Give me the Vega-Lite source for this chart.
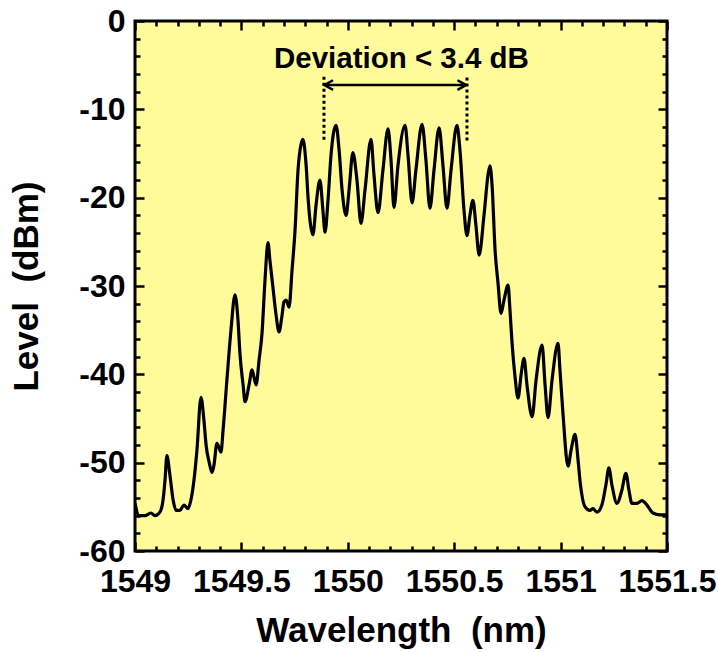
{
  "$schema": "https://vega.github.io/schema/vega-lite/v6.json",
  "width": 532,
  "height": 530,
  "autosize": "none",
  "padding": {"left": 135, "top": 21, "right": 51, "bottom": 101},
  "background": "white",
  "config": {
    "font": "Liberation Sans",
    "view": {"fill": "#FFFB9A", "stroke": "black", "strokeWidth": 3}
  },
  "datasets": {
    "spectrum": [
      {"w": 1549.000, "lvl": -54.6}, {"w": 1549.019, "lvl": -56.0}, {"w": 1549.047, "lvl": -56.0},
      {"w": 1549.075, "lvl": -55.7}, {"w": 1549.094, "lvl": -56.0}, {"w": 1549.117, "lvl": -55.6},
      {"w": 1549.132, "lvl": -54.2}, {"w": 1549.141, "lvl": -52.0}, {"w": 1549.150, "lvl": -49.2},
      {"w": 1549.164, "lvl": -51.4}, {"w": 1549.179, "lvl": -54.2}, {"w": 1549.193, "lvl": -55.4},
      {"w": 1549.211, "lvl": -55.4}, {"w": 1549.230, "lvl": -54.8}, {"w": 1549.249, "lvl": -55.2},
      {"w": 1549.263, "lvl": -54.2}, {"w": 1549.277, "lvl": -52.0}, {"w": 1549.291, "lvl": -48.6},
      {"w": 1549.310, "lvl": -42.6}, {"w": 1549.324, "lvl": -45.2}, {"w": 1549.334, "lvl": -48.0},
      {"w": 1549.348, "lvl": -49.9}, {"w": 1549.362, "lvl": -51.1}, {"w": 1549.371, "lvl": -50.3},
      {"w": 1549.385, "lvl": -47.8}, {"w": 1549.404, "lvl": -48.8}, {"w": 1549.414, "lvl": -46.3},
      {"w": 1549.432, "lvl": -40.6}, {"w": 1549.451, "lvl": -35.0}, {"w": 1549.470, "lvl": -31.0},
      {"w": 1549.484, "lvl": -33.9}, {"w": 1549.493, "lvl": -37.6}, {"w": 1549.508, "lvl": -41.2},
      {"w": 1549.517, "lvl": -43.1}, {"w": 1549.536, "lvl": -41.2}, {"w": 1549.550, "lvl": -39.5},
      {"w": 1549.569, "lvl": -41.2}, {"w": 1549.583, "lvl": -38.4}, {"w": 1549.597, "lvl": -35.3},
      {"w": 1549.611, "lvl": -29.3}, {"w": 1549.625, "lvl": -25.1}, {"w": 1549.634, "lvl": -27.1},
      {"w": 1549.648, "lvl": -30.1}, {"w": 1549.663, "lvl": -33.3}, {"w": 1549.677, "lvl": -35.2},
      {"w": 1549.691, "lvl": -33.3}, {"w": 1549.700, "lvl": -31.8}, {"w": 1549.710, "lvl": -31.6},
      {"w": 1549.724, "lvl": -32.4}, {"w": 1549.738, "lvl": -28.2}, {"w": 1549.752, "lvl": -23.7},
      {"w": 1549.766, "lvl": -16.9}, {"w": 1549.780, "lvl": -14.0}, {"w": 1549.789, "lvl": -13.4},
      {"w": 1549.804, "lvl": -16.3}, {"w": 1549.813, "lvl": -19.9}, {"w": 1549.822, "lvl": -22.5},
      {"w": 1549.836, "lvl": -24.2}, {"w": 1549.851, "lvl": -20.8}, {"w": 1549.869, "lvl": -18.0},
      {"w": 1549.883, "lvl": -21.4}, {"w": 1549.893, "lvl": -23.9}, {"w": 1549.907, "lvl": -20.3},
      {"w": 1549.921, "lvl": -15.2}, {"w": 1549.945, "lvl": -11.8}, {"w": 1549.959, "lvl": -14.6},
      {"w": 1549.973, "lvl": -19.1}, {"w": 1549.992, "lvl": -22.0}, {"w": 1550.006, "lvl": -19.1},
      {"w": 1550.024, "lvl": -14.9}, {"w": 1550.043, "lvl": -18.0}, {"w": 1550.062, "lvl": -22.9},
      {"w": 1550.081, "lvl": -19.1}, {"w": 1550.109, "lvl": -13.4}, {"w": 1550.123, "lvl": -17.4},
      {"w": 1550.142, "lvl": -21.7}, {"w": 1550.165, "lvl": -16.9}, {"w": 1550.189, "lvl": -12.2},
      {"w": 1550.203, "lvl": -15.7}, {"w": 1550.217, "lvl": -21.1}, {"w": 1550.236, "lvl": -16.3},
      {"w": 1550.269, "lvl": -11.8}, {"w": 1550.283, "lvl": -15.2}, {"w": 1550.302, "lvl": -20.6},
      {"w": 1550.320, "lvl": -16.9}, {"w": 1550.349, "lvl": -11.7}, {"w": 1550.367, "lvl": -15.7},
      {"w": 1550.386, "lvl": -21.2}, {"w": 1550.405, "lvl": -16.9}, {"w": 1550.429, "lvl": -12.1},
      {"w": 1550.447, "lvl": -16.3}, {"w": 1550.466, "lvl": -21.2}, {"w": 1550.485, "lvl": -16.9},
      {"w": 1550.513, "lvl": -11.8}, {"w": 1550.527, "lvl": -14.6}, {"w": 1550.546, "lvl": -21.4},
      {"w": 1550.560, "lvl": -24.3}, {"w": 1550.574, "lvl": -22.0}, {"w": 1550.588, "lvl": -20.3},
      {"w": 1550.602, "lvl": -23.1}, {"w": 1550.617, "lvl": -26.5}, {"w": 1550.640, "lvl": -22.0},
      {"w": 1550.659, "lvl": -17.4}, {"w": 1550.668, "lvl": -16.4}, {"w": 1550.678, "lvl": -18.6},
      {"w": 1550.692, "lvl": -25.9}, {"w": 1550.706, "lvl": -29.7}, {"w": 1550.720, "lvl": -33.1},
      {"w": 1550.734, "lvl": -31.6}, {"w": 1550.753, "lvl": -29.9}, {"w": 1550.762, "lvl": -32.7},
      {"w": 1550.772, "lvl": -36.5}, {"w": 1550.786, "lvl": -40.3}, {"w": 1550.800, "lvl": -42.7},
      {"w": 1550.814, "lvl": -40.1}, {"w": 1550.828, "lvl": -38.2}, {"w": 1550.842, "lvl": -41.2},
      {"w": 1550.866, "lvl": -44.8}, {"w": 1550.885, "lvl": -40.6}, {"w": 1550.913, "lvl": -36.7},
      {"w": 1550.927, "lvl": -41.2}, {"w": 1550.941, "lvl": -44.9}, {"w": 1550.960, "lvl": -40.6},
      {"w": 1550.988, "lvl": -36.5}, {"w": 1550.997, "lvl": -39.5}, {"w": 1551.011, "lvl": -44.4},
      {"w": 1551.035, "lvl": -50.4}, {"w": 1551.049, "lvl": -48.6}, {"w": 1551.068, "lvl": -46.8},
      {"w": 1551.082, "lvl": -49.7}, {"w": 1551.091, "lvl": -52.0}, {"w": 1551.115, "lvl": -55.0},
      {"w": 1551.138, "lvl": -55.4}, {"w": 1551.152, "lvl": -55.2}, {"w": 1551.171, "lvl": -55.6},
      {"w": 1551.194, "lvl": -54.8}, {"w": 1551.213, "lvl": -52.5}, {"w": 1551.227, "lvl": -50.6},
      {"w": 1551.241, "lvl": -52.5}, {"w": 1551.265, "lvl": -54.6}, {"w": 1551.288, "lvl": -53.1},
      {"w": 1551.307, "lvl": -51.2}, {"w": 1551.321, "lvl": -53.1}, {"w": 1551.335, "lvl": -54.6},
      {"w": 1551.359, "lvl": -54.6}, {"w": 1551.382, "lvl": -54.3}, {"w": 1551.406, "lvl": -54.8},
      {"w": 1551.434, "lvl": -55.7}, {"w": 1551.467, "lvl": -55.9}, {"w": 1551.495, "lvl": -55.9}
    ],
    "label": [{"w": 1550.252, "lvl": -5.3, "t": "Deviation < 3.4 dB"}],
    "arrow": [{"w": 1549.890, "w2": 1550.556, "lvl": -7.25}],
    "dots": [
      {"w": 1549.888, "lvl": -6.3, "lvl2": -13.5},
      {"w": 1550.560, "lvl": -6.4, "lvl2": -13.6}
    ]
  },
  "resolve": {"axis": {"x": "independent", "y": "independent"}},
  "layer": [
    {
      "data": {"name": "spectrum"},
      "mark": {"type": "line", "color": "black", "strokeWidth": 3.2, "interpolate": "monotone", "clip": true},
      "encoding": {
        "x": {
          "field": "w", "type": "quantitative",
          "scale": {"domain": [1549, 1551.5], "nice": false, "zero": false},
          "axis": {
            "orient": "bottom",
            "title": "Wavelength\u00a0\u00a0(nm)",
            "titleFontSize": 35, "titleFontWeight": "bold", "titleColor": "black", "titlePadding": 12,
            "values": [1549, 1549.1, 1549.2, 1549.3, 1549.4, 1549.5, 1549.6, 1549.7, 1549.8, 1549.9, 1550, 1550.1, 1550.2, 1550.3, 1550.4, 1550.5, 1550.6, 1550.7, 1550.8, 1550.9, 1551, 1551.1, 1551.2, 1551.3, 1551.4, 1551.5],
            "format": ".1~f",
            "labelExpr": "abs(datum.value*2 - round(datum.value*2)) < 0.01 ? datum.label : ''",
            "labelFontSize": 32, "labelFontWeight": "bold", "labelColor": "black",
            "labelFlush": false, "labelOverlap": false, "labelPadding": 24,
            "domain": false, "grid": false,
            "tickColor": "black", "tickWidth": 2.5,
            "tickSize": {"condition": {"test": "abs(datum.value*2 - round(datum.value*2)) < 0.01", "value": -9}, "value": -5}
          }
        },
        "y": {
          "field": "lvl", "type": "quantitative",
          "scale": {"domain": [-60, 0], "nice": false, "zero": false},
          "axis": {
            "orient": "left",
            "title": "Level\u00a0\u00a0(dBm)",
            "titleFontSize": 35, "titleFontWeight": "bold", "titleColor": "black", "titlePadding": 34,
            "values": [-60, -58, -56, -54, -52, -50, -48, -46, -44, -42, -40, -38, -36, -34, -32, -30, -28, -26, -24, -22, -20, -18, -16, -14, -12, -10, -8, -6, -4, -2, 0],
            "labelExpr": "datum.value % 10 == 0 ? toString(datum.value) : ''",
            "labelFontSize": 32, "labelFontWeight": "bold", "labelColor": "black",
            "labelFlush": false, "labelOverlap": false, "labelPadding": 19,
            "domain": false, "grid": false,
            "tickColor": "black", "tickWidth": 2.5,
            "tickSize": {"condition": {"test": "datum.value % 10 == 0", "value": -9}, "value": -5}
          }
        }
      }
    },
    {
      "data": {"name": "label"},
      "mark": {"type": "text", "fontSize": 29.5, "fontWeight": "bold", "color": "black", "align": "center", "baseline": "alphabetic"},
      "encoding": {
        "x": {
          "field": "w", "type": "quantitative",
          "scale": {"domain": [1549, 1551.5], "nice": false, "zero": false},
          "axis": {
            "orient": "top", "title": null, "labels": false, "domain": false, "grid": false,
            "values": [1549, 1549.1, 1549.2, 1549.3, 1549.4, 1549.5, 1549.6, 1549.7, 1549.8, 1549.9, 1550, 1550.1, 1550.2, 1550.3, 1550.4, 1550.5, 1550.6, 1550.7, 1550.8, 1550.9, 1551, 1551.1, 1551.2, 1551.3, 1551.4, 1551.5],
            "tickColor": "black", "tickWidth": 2.5,
            "tickSize": {"condition": {"test": "abs(datum.value*2 - round(datum.value*2)) < 0.01", "value": -9}, "value": -5}
          }
        },
        "y": {
          "field": "lvl", "type": "quantitative",
          "scale": {"domain": [-60, 0], "nice": false, "zero": false},
          "axis": {
            "orient": "right", "title": null, "labels": false, "domain": false, "grid": false,
            "values": [-60, -58, -56, -54, -52, -50, -48, -46, -44, -42, -40, -38, -36, -34, -32, -30, -28, -26, -24, -22, -20, -18, -16, -14, -12, -10, -8, -6, -4, -2, 0],
            "tickColor": "black", "tickWidth": 2.5,
            "tickSize": {"condition": {"test": "datum.value % 10 == 0", "value": -9}, "value": -5}
          }
        },
        "text": {"field": "t"}
      }
    },
    {
      "data": {"name": "arrow"},
      "mark": {"type": "rule", "color": "black", "strokeWidth": 2.5},
      "encoding": {
        "x": {"field": "w", "type": "quantitative", "scale": {"domain": [1549, 1551.5], "nice": false, "zero": false}, "axis": null},
        "x2": {"field": "w2"},
        "y": {"field": "lvl", "type": "quantitative", "scale": {"domain": [-60, 0], "nice": false, "zero": false}, "axis": null}
      }
    },
    {
      "data": {"name": "arrow"},
      "mark": {"type": "point", "shape": "M1,-0.55L0,0L1,0.55", "size": 300, "filled": false, "stroke": "black", "strokeWidth": 2.5, "opacity": 1},
      "encoding": {
        "x": {"field": "w", "type": "quantitative", "scale": {"domain": [1549, 1551.5], "nice": false, "zero": false}, "axis": null},
        "y": {"field": "lvl", "type": "quantitative", "scale": {"domain": [-60, 0], "nice": false, "zero": false}, "axis": null}
      }
    },
    {
      "data": {"name": "arrow"},
      "mark": {"type": "point", "shape": "M-1,-0.55L0,0L-1,0.55", "size": 300, "filled": false, "stroke": "black", "strokeWidth": 2.5, "opacity": 1},
      "encoding": {
        "x": {"field": "w2", "type": "quantitative", "scale": {"domain": [1549, 1551.5], "nice": false, "zero": false}, "axis": null},
        "y": {"field": "lvl", "type": "quantitative", "scale": {"domain": [-60, 0], "nice": false, "zero": false}, "axis": null}
      }
    },
    {
      "data": {"name": "dots"},
      "mark": {"type": "rule", "color": "black", "strokeWidth": 3, "strokeDash": [3, 3]},
      "encoding": {
        "x": {"field": "w", "type": "quantitative", "scale": {"domain": [1549, 1551.5], "nice": false, "zero": false}, "axis": null},
        "y": {"field": "lvl", "type": "quantitative", "scale": {"domain": [-60, 0], "nice": false, "zero": false}, "axis": null},
        "y2": {"field": "lvl2"}
      }
    }
  ]
}
